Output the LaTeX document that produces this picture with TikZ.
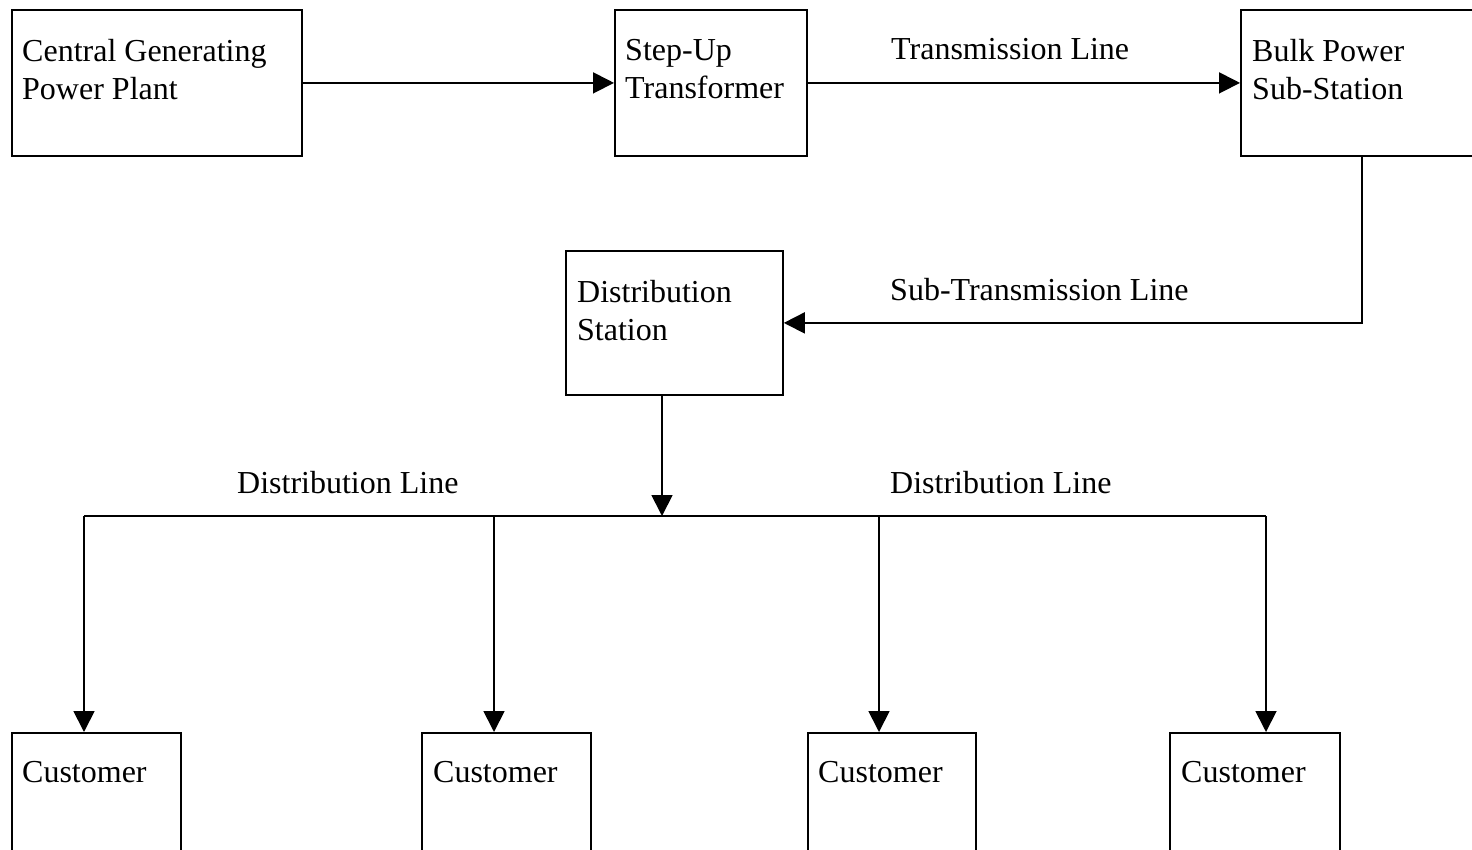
\documentclass[tikz,border=0pt]{standalone}
\usepackage{fontspec}
\setmainfont{Liberation Serif}
\usetikzlibrary{arrows.meta,calc}
\begin{document}
\begin{tikzpicture}[x=1pt,y=-1pt,
  box/.style={draw, line width=1.8pt, inner sep=0pt, anchor=north west},
  txt/.style={inner sep=0pt, anchor=north west, align=left,
    font=\fontsize{32}{38}\selectfont},
  lbl/.style={inner sep=0pt, anchor=base west, font=\fontsize{32}{38}\selectfont},
  conn/.style={line width=1.8pt},
  arr/.style={conn, -{Triangle[length=21pt,width=21pt]}}]
\useasboundingbox (0,0) rectangle (1472,850);
\clip (0,0) rectangle (1472,850);
% boxes
\node[box, minimum width=290pt, minimum height=146pt] (cg) at (11,9) {};
\node[box, minimum width=192pt, minimum height=146pt] (su) at (614,9) {};
\node[box, minimum width=260pt, minimum height=146pt] (bp) at (1240,9) {};
\node[box, minimum width=217pt, minimum height=144pt] (ds) at (565,250) {};
\node[box, minimum width=169pt, minimum height=160pt] (c1) at (11,732) {};
\node[box, minimum width=169pt, minimum height=160pt] (c2) at (421,732) {};
\node[box, minimum width=168pt, minimum height=160pt] (c3) at (807,732) {};
\node[box, minimum width=170pt, minimum height=160pt] (c4) at (1169,732) {};
% box texts
\node[txt] (cgt) at ([shift={(11,30)}]cg.north west) {Central Generating\\Power Plant};
\node[txt] (sut) at ([shift={(11,30)}]su.north west) {Step-Up\\Transformer};
\node[txt] (bpt) at ([shift={(12,30)}]bp.north west) {Bulk Power\\Sub-Station};
\node[txt] (dst) at ([shift={(12,30)}]ds.north west) {Distribution\\Station};
\node[txt] (c1t) at ([shift={(11,29)}]c1.north west) {Customer};
\node[txt] (c2t) at ([shift={(12,29)}]c2.north west) {Customer};
\node[txt] (c3t) at ([shift={(11,29)}]c3.north west) {Customer};
\node[txt] (c4t) at ([shift={(12,29)}]c4.north west) {Customer};
% connectors
\draw[arr] (cg.east) -- (su.west);
\draw[arr] (su.east) -- (bp.west);
\coordinate (bpo) at ($(bp.south west)+(122,0)$);
\draw[arr] (bpo) |- (ds.east);
\coordinate (dso) at ($(ds.south west)+(97,0)$);
\coordinate (bus) at (662,516);
\draw[arr] (dso) -- (bus);
\coordinate (b1) at (84,516);
\coordinate (b2) at (494,516);
\coordinate (b3) at (879,516);
\coordinate (b4) at (1266,516);
\draw[conn] (b1) -- (b4);
\draw[arr] (b1) -- (b1 |- c1.north);
\draw[arr] (b2) -- (b2 |- c2.north);
\draw[arr] (b3) -- (b3 |- c3.north);
\draw[arr] (b4) -- (b4 |- c4.north);
% line labels
\node[lbl] (l1) at (891,60) {Transmission Line};
\node[lbl] (l2) at (890,301) {Sub-Transmission Line};
\node[lbl] (l3) at (237,493) {Distribution Line};
\node[lbl] (l4) at (890,493) {Distribution Line};
\end{tikzpicture}
\end{document}
